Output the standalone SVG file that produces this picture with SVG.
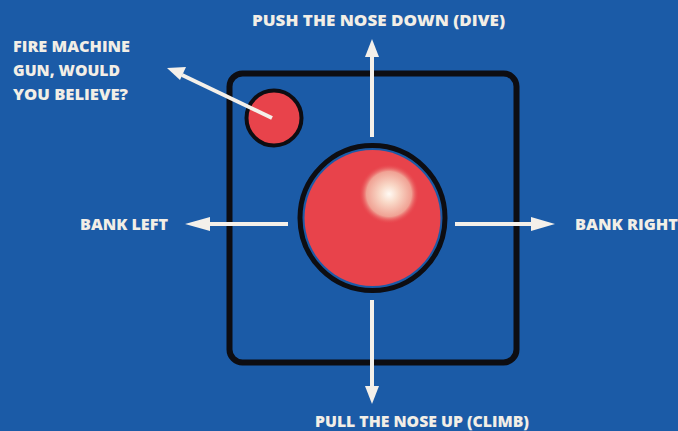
<svg xmlns="http://www.w3.org/2000/svg" width="678" height="431" viewBox="0 0 678 431">
<defs>
<style>
.lbl{font-family:"Open Sans","Liberation Sans",Arial,sans-serif;font-weight:800;font-size:16px;fill:#f2eee6;}
.shaft{stroke:#f4f0ea;stroke-width:4;fill:none;}
.head{fill:#f4f0ea;}
</style>
<radialGradient id="hl" cx="0.5" cy="0.5" r="0.5">
<stop offset="0" stop-color="#fffaf4"/>
<stop offset="0.3" stop-color="#f9d9c8"/>
<stop offset="0.75" stop-color="#f0a294"/>
<stop offset="1" stop-color="#e8434b" stop-opacity="0"/>
</radialGradient>
</defs>
<rect x="0" y="0" width="678" height="431" fill="#1b5ba7"/>
<g id="panel">
<rect x="229.5" y="73.5" width="287" height="289" rx="13" ry="13" fill="none" stroke="#0d0d12" stroke-width="6"/>
</g>
<g id="fire-button">
<circle cx="274" cy="118" r="27.5" fill="#e8434b" stroke="#0d0d12" stroke-width="4"/>
</g>
<g id="stick">
<circle cx="372.5" cy="218" r="72.5" fill="#1b5ba7" stroke="#0d0d12" stroke-width="5"/>
<circle cx="372.5" cy="218" r="68" fill="#e8434b"/>
<circle cx="389" cy="194" r="30" fill="url(#hl)"/>
</g>
<g id="connectors">
<line class="shaft" x1="372" y1="137" x2="372" y2="56"/>
<polygon class="head" points="372,39 365,57 379,57"/>
<line class="shaft" x1="372" y1="300" x2="372" y2="388"/>
<polygon class="head" points="372,404 365,386 379,386"/>
<line class="shaft" x1="288" y1="224" x2="205" y2="224"/>
<polygon class="head" points="185,224 210,217 210,231"/>
<line class="shaft" x1="455" y1="224" x2="537" y2="224"/>
<polygon class="head" points="555,224 531,217 531,231"/>
<line class="shaft" x1="272" y1="118" x2="182" y2="75"/>
<polygon class="head" points="167,68 186,67 180,80"/>
</g>
<g id="labels">
<text class="lbl" x="252" y="26" textLength="253" lengthAdjust="spacingAndGlyphs">PUSH THE NOSE DOWN (DIVE)</text>
<text class="lbl" x="315" y="427" textLength="214" lengthAdjust="spacingAndGlyphs">PULL THE NOSE UP (CLIMB)</text>
<text class="lbl" x="80" y="230" textLength="88" lengthAdjust="spacingAndGlyphs">BANK LEFT</text>
<text class="lbl" x="575" y="230" textLength="103" lengthAdjust="spacingAndGlyphs">BANK RIGHT</text>
<text class="lbl" x="13" y="52" textLength="117" lengthAdjust="spacingAndGlyphs">FIRE MACHINE</text>
<text class="lbl" x="13" y="76" textLength="107" lengthAdjust="spacingAndGlyphs">GUN, WOULD</text>
<text class="lbl" x="13" y="100" textLength="115" lengthAdjust="spacingAndGlyphs">YOU BELIEVE?</text>
</g>
</svg>
